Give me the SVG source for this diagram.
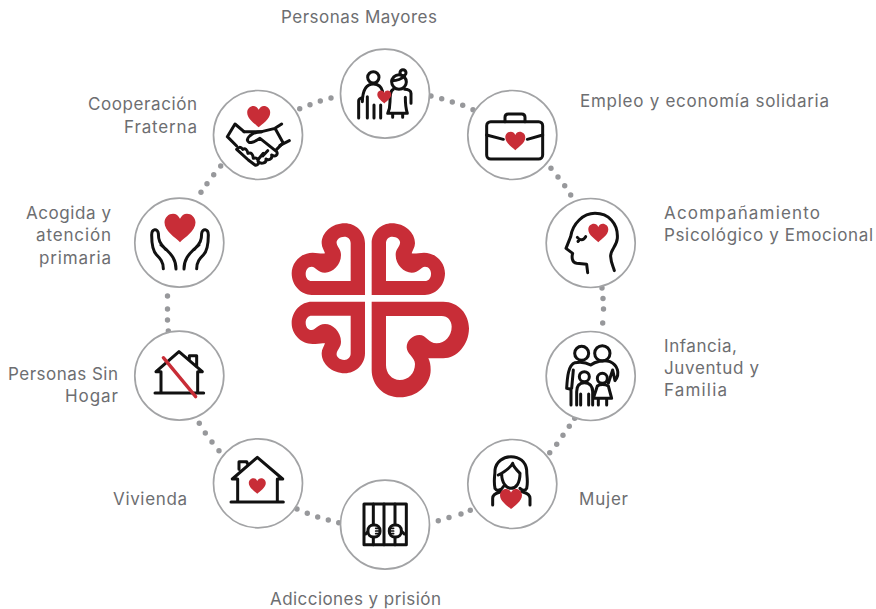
<svg xmlns="http://www.w3.org/2000/svg" width="876" height="609" viewBox="0 0 876 609">
<style>
text{font-family:"Inter","Noto Sans","Liberation Sans",sans-serif;font-size:17px;fill:#6d6e71}
.ring{fill:#fff;stroke:#a2a3a5;stroke-width:1.7}
.dot{fill:#97989b}
.heart{fill:#c82d37}
.ic{fill:none;stroke:#111;stroke-width:9;stroke-linecap:round;stroke-linejoin:round}
.logo{fill:#c82d37;fill-rule:evenodd}
</style>
<defs>
<path id="h" d="M0,.92C-.3,.62-1,.2-1,-.35C-1,-.7-.72,-.92-.45,-.92C-.25,-.92-.1,-.8,0,-.6C.1,-.8,.25,-.92,.45,-.92C.72,-.92,1,-.7,1,-.35C1,.2,.3,.62,0,.92Z"/>
<path id="q" d="M275,255V100C275,65,305,40,335,40C375,40,405,68,405,100C405,113,397,122,395,130C405,132,418,128,432,128C468,128,495,158,495,190C495,228,465,255,435,255ZM318,213V100C318,88,326,80,337,80C352,80,362,90,360,100C358,112,347,118,347,135C347,165,372,188,395,188C418,188,422,170,435,170C447,170,453,180,453,192C453,205,445,213,435,213Z"/>
</defs>
<g id="connectors">
<g class="dot">
<circle cx="299.7" cy="108.7" r="2.7"/><circle cx="310" cy="104.7" r="2.7"/><circle cx="320.3" cy="101" r="2.7"/><circle cx="331" cy="98" r="2.7"/>
<circle cx="431" cy="96" r="2.7"/><circle cx="441.7" cy="98.7" r="2.7"/><circle cx="452.3" cy="102" r="2.7"/><circle cx="462.7" cy="105.3" r="2.7"/><circle cx="473" cy="109.7" r="2.7"/>
<circle cx="551" cy="168.3" r="2.7"/><circle cx="558" cy="177" r="2.7"/><circle cx="564.7" cy="185.7" r="2.7"/><circle cx="570.7" cy="195" r="2.7"/>
<circle cx="602" cy="288" r="2.7"/><circle cx="603" cy="298.5" r="2.7"/><circle cx="603.5" cy="309" r="2.7"/><circle cx="602.7" cy="323" r="2.7"/>
<circle cx="574.7" cy="418.3" r="2.7"/><circle cx="569.3" cy="426.3" r="2.7"/><circle cx="563" cy="435.3" r="2.7"/><circle cx="556.7" cy="444.3" r="2.7"/><circle cx="549.7" cy="452.7" r="2.7"/>
<circle cx="470.3" cy="510.3" r="2.7"/><circle cx="461" cy="514" r="2.7"/><circle cx="449" cy="517.5" r="2.7"/><circle cx="438.3" cy="520.7" r="2.7"/>
<circle cx="297" cy="509" r="2.7"/><circle cx="307.3" cy="513.3" r="2.7"/><circle cx="317.7" cy="517" r="2.7"/><circle cx="328.3" cy="520" r="2.7"/><circle cx="338.7" cy="522.7" r="2.7"/>
<circle cx="205.3" cy="433" r="2.7"/><circle cx="212" cy="442" r="2.7"/><circle cx="219" cy="450.7" r="2.7"/><circle cx="199.3" cy="423.3" r="2.7"/>
<circle cx="167.5" cy="296" r="2.7"/><circle cx="167.5" cy="309" r="2.7"/><circle cx="167.5" cy="320" r="2.7"/><circle cx="168.3" cy="331" r="2.7"/>
<circle cx="201" cy="192.3" r="2.7"/><circle cx="207" cy="183.7" r="2.7"/><circle cx="213.7" cy="174.7" r="2.7"/><circle cx="220.7" cy="166" r="2.7"/>
</g>
</g>
<g id="logo" class="logo" transform="translate(280 210) scale(.33333)">
<use href="#q"/>
<use href="#q" transform="translate(530 0) scale(-1 1)"/>
<use href="#q" transform="translate(530 530) scale(-1 -1)"/>
<path d="M275,275H490C535,275,567,312,567,355C567,405,530,445,490,445H445C450,455,452,465,452,480C452,525,410,562,360,562C310,562,275,525,275,480ZM318,318H485C503,318,515,332,515,350C515,378,495,400,470,400C445,400,440,375,418,375C398,375,380,392,380,412C380,432,405,442,405,462C405,490,385,510,360,510C335,510,318,490,318,465Z"/>
</g>
<g id="node-mayores">
<circle class="ring" cx="385" cy="93.7" r="44.5"/>
<g class="ic" transform="translate(350 60) scale(.33333)">
<circle cx="70" cy="52" r="17"/>
<path d="M26,174V122C26,116,32,114,38,112M37,125C38,90,50,72,70,72C85,72,95,82,98,95M52,174V110M72,174V135M92,174V135"/>
<circle cx="147" cy="66" r="22"/><circle cx="159" cy="38" r="9"/>
<path d="M126,62C142,62,155,57,164,48M130,88C120,92,120,105,120,125C120,140,118,150,113,160H172C167,145,166,130,166,112M164,88C174,88,183,92,183,100V130M128,160V172M158,160V172"/>
</g>
<use href="#h" class="heart" transform="translate(384.3 97) scale(7)"/>
<text x="281" y="23" textLength="156">Personas Mayores</text>
</g>
<g id="node-empleo">
<circle class="ring" cx="512.3" cy="135" r="44.5"/>
<g class="ic" transform="translate(420 80) scale(.33333)">
<rect x="200" y="125" width="168" height="112" rx="12"/>
<path d="M255,125V112C255,105,260,102,265,102H305C312,102,315,107,315,112V125M200,165L250,178M322,178L368,165"/>
</g>
<use href="#h" class="heart" transform="translate(515.3 141) scale(10)"/>
<text x="580" y="107" textLength="249">Empleo y economía solidaria</text>
</g>
<g id="node-psicologico">
<circle class="ring" cx="590.7" cy="243" r="44.5"/>
<g class="ic" transform="translate(420 80) scale(.33333)">
<path d="M503,578L500,553L470,550C455,548,455,530,458,520L438,505L452,470C458,430,490,400,525,400C565,400,595,430,592,475C590,500,570,510,572,530C573,550,580,560,583,572"/>
<path d="M472,472C480,482,490,482,497,470M477,481L474,484"/>
</g>
<use href="#h" class="heart" transform="translate(598.3 233) scale(10)"/>
<text x="664" y="219" textLength="156">Acompañamiento</text>
<text x="664" y="241" textLength="209">Psicológico y Emocional</text>
</g>
<g id="node-infancia">
<circle class="ring" cx="590.7" cy="376" r="44.5"/>
<g class="ic" transform="translate(460 320) scale(.33333)">
<circle cx="365" cy="100" r="21"/><circle cx="427" cy="100" r="23"/>
<path d="M320,205C322,170,325,135,345,128C360,125,375,125,392,135C405,125,430,118,450,125C472,135,482,160,465,182L458,150L445,190M320,205L333,208V255M340,150L335,205"/>
<circle cx="373" cy="170" r="15"/><circle cx="427" cy="175" r="15"/>
<path d="M350,255V215C350,195,360,188,373,188C390,188,398,200,398,215V255M362,255V222M386,222V255M400,235H455L445,198C435,192,420,192,412,198ZM415,235V255M440,235V255"/>
</g>
<text x="664" y="352" textLength="73">Infancia,</text>
<text x="664" y="374" textLength="95">Juventud y</text>
<text x="664" y="396" textLength="63">Familia</text>
</g>
<g id="node-mujer">
<circle class="ring" cx="512.3" cy="484" r="44.5"/>
<g class="ic" transform="translate(460 320) scale(.33333)">
<path d="M105,505C100,480,105,470,105,450C108,425,130,410,153,410C178,410,197,425,200,450C200,470,205,485,200,505C195,515,185,510,180,505M125,462C125,490,140,505,153,505C168,505,180,490,180,460C170,450,160,440,158,430C150,445,135,455,115,465M105,505C110,515,125,510,130,500M98,555V535C98,520,115,518,125,515M210,555V535C210,520,195,518,185,515"/>
</g>
<use href="#h" class="heart" transform="translate(511 499) scale(11)"/>
<text x="579" y="505" textLength="49">Mujer</text>
</g>
<g id="node-adicciones">
<circle class="ring" cx="385" cy="524.7" r="44.5"/>
<g class="ic" transform="translate(200 430) scale(.33333)">
<rect x="492" y="222" width="127" height="122"/>
<path d="M520,222V344M552,222V344M585,222V344M497,312L505,304M613,312L605,304"/>
<rect x="504" y="285" width="36" height="36" rx="16" fill="#fff"/><rect x="568" y="285" width="36" height="36" rx="16" fill="#fff"/>
<path d="M527,295H539M527,303H539M527,311H539M569,295H581M569,303H581M569,311H581" style="stroke-width:5"/>
</g>
<text x="270" y="605" textLength="171">Adicciones y prisión</text>
</g>
<g id="node-vivienda">
<circle class="ring" cx="258" cy="483.3" r="44.5"/>
<g class="ic" transform="translate(200 430) scale(.33333)">
<path d="M97,147L172,82L248,147H232V215M97,147H113V215M93,216H250M117,118V95H140L142,100"/>
</g>
<use href="#h" class="heart" transform="translate(257.3 486) scale(8.5)"/>
<text x="113" y="505" textLength="74">Vivienda</text>
</g>
<g id="node-sinhogar">
<circle class="ring" cx="179.3" cy="375.7" r="44.5"/>
<g class="ic" transform="translate(125 190) scale(.33333)">
<path d="M93,545L162,485L232,545H218V608M93,545H108V608M90,609H236M193,510V497H215V530"/>
<path d="M115,503L212,620" style="stroke:#c82d37;stroke-width:10"/>
</g>
<text x="8" y="380" textLength="110">Personas Sin</text>
<text x="65" y="402" textLength="53">Hogar</text>
</g>
<g id="node-acogida">
<circle class="ring" cx="179.3" cy="242.7" r="44.5"/>
<g class="ic" transform="translate(125 190) scale(.33333)">
<path d="M115,236C115,215,105,205,95,195C85,185,80,170,80,135C80,115,98,115,100,130C100,150,104,160,122,178M108,165L125,180C135,190,153,205,153,237"/>
<path d="M215,236C215,215,225,205,235,195C245,185,250,170,250,135C250,115,232,115,230,130C230,150,226,160,208,178M222,165L205,180C195,190,177,205,177,237"/>
</g>
<use href="#h" class="heart" transform="translate(180 228) scale(15.5)"/>
<text x="26" y="219" textLength="85">Acogida y</text>
<text x="36" y="241" textLength="75">atención</text>
<text x="39" y="264" textLength="72">primaria</text>
</g>
<g id="node-cooperacion">
<circle class="ring" cx="258" cy="135" r="44.5"/>
<g class="ic" transform="translate(220 110) scale(.33333)">
<path d="M22,80L45,42L72,65M22,80L50,108"/>
<path d="M72,65H125L165,55L185,42M165,55L190,100M180,106L208,92"/>
<path d="M125,65C105,65,85,75,82,90C85,105,105,95,120,85L170,125C175,135,165,142,155,135M155,135C158,148,145,152,138,147M138,147C140,158,125,165,115,155M170,118L188,100"/>
<path d="M50,118Q60,105,68,118Q80,112,84,130Q98,125,100,145Q112,140,115,155M50,118L85,150L105,165C112,167,118,160,115,155M130,130L115,148M143,122L128,138"/>
</g>
<use href="#h" class="heart" transform="translate(258.7 116.7) scale(11.5)"/>
<text x="88" y="110" textLength="109">Cooperación</text>
<text x="124" y="133" textLength="73">Fraterna</text>
</g>
</svg>
